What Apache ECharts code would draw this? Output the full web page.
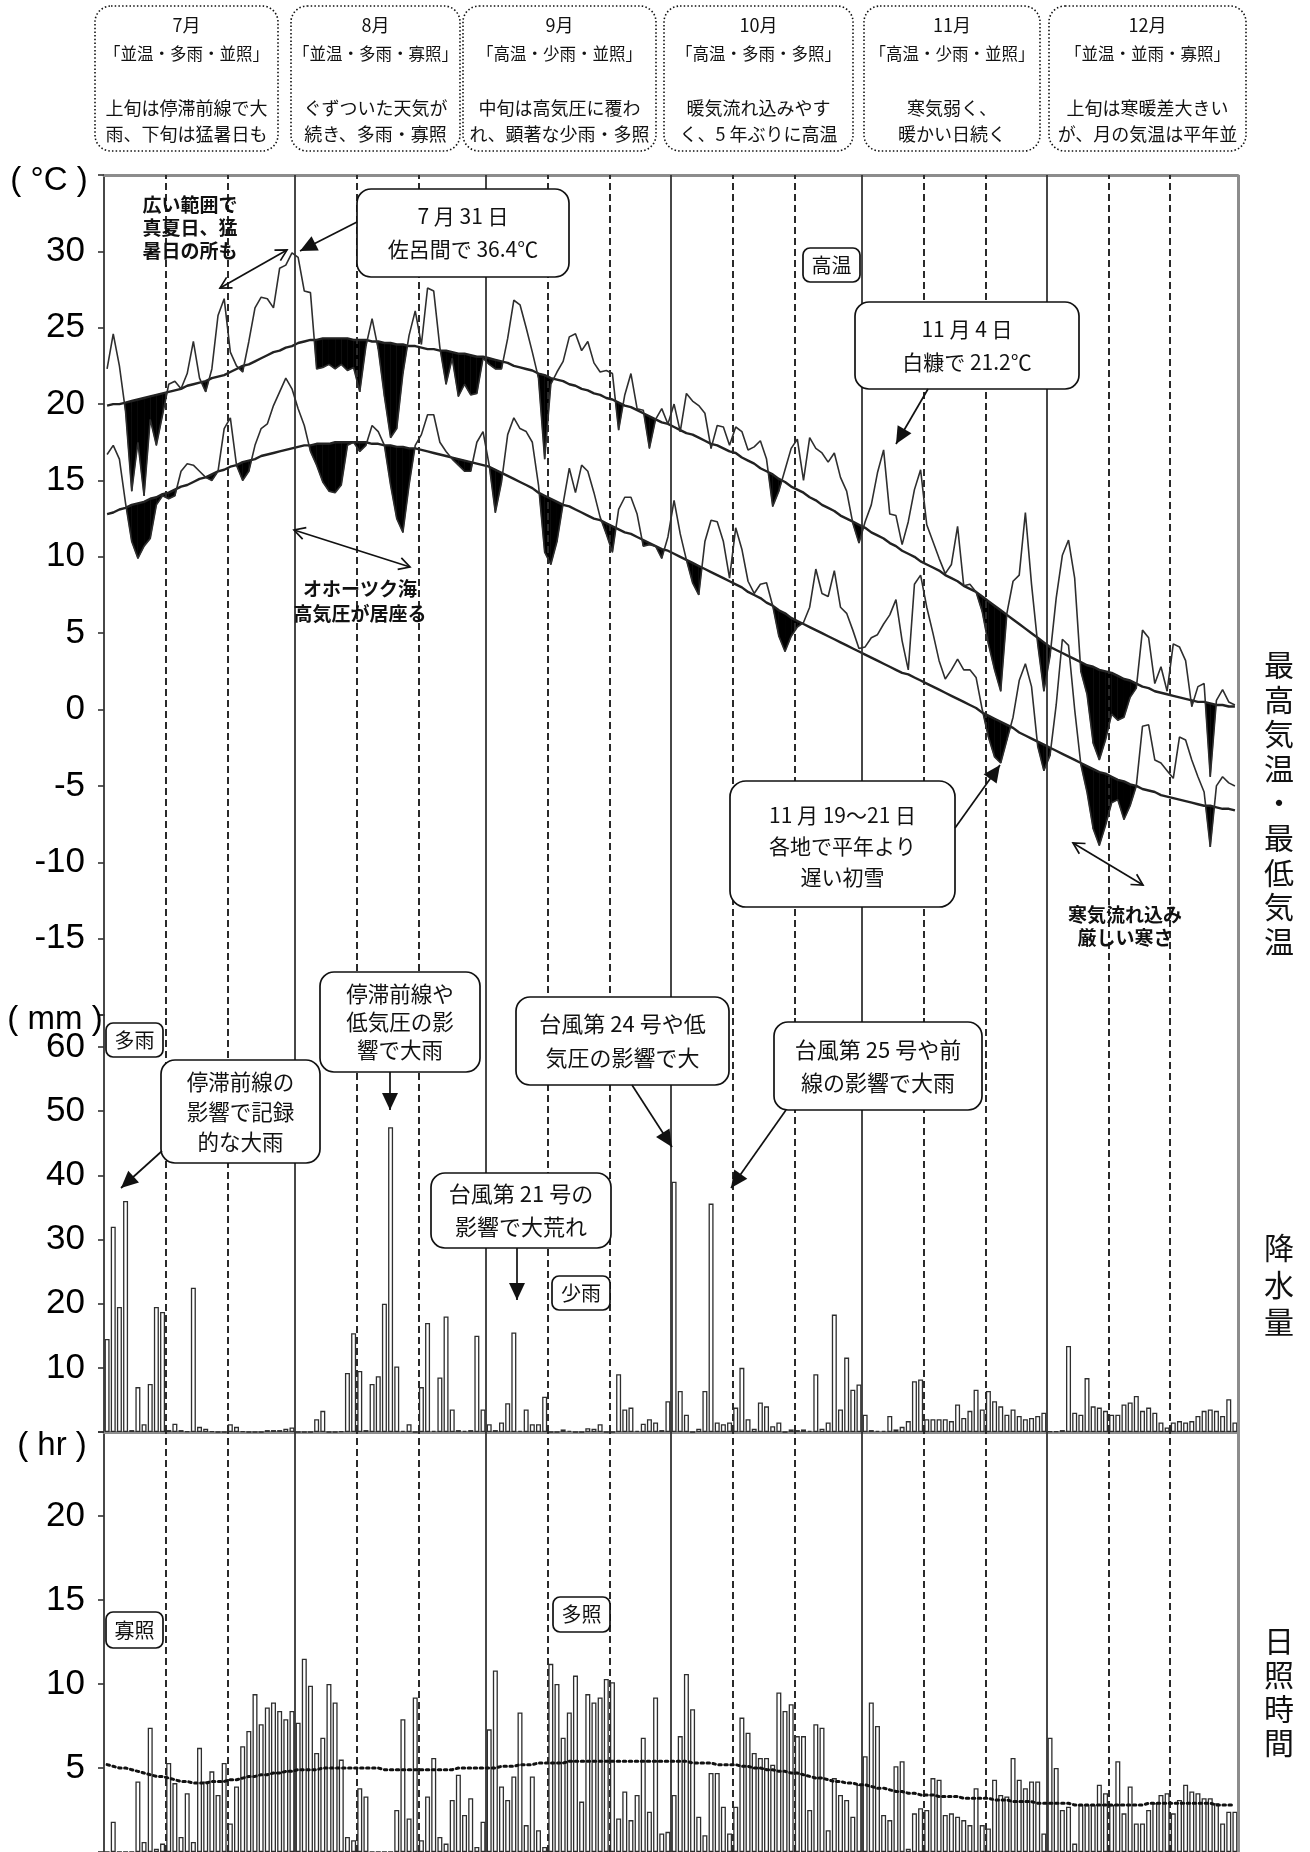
<!DOCTYPE html>
<html><head><meta charset="utf-8">
<script src="https://cdn.jsdelivr.net/npm/echarts@6/dist/echarts.min.js"></script>
<style>html,body{margin:0;padding:0;background:#fff}#c{width:1310px;height:1852px}</style>
</head><body><div id="c"></div>
<script>
// ---------------- DATA (Jul 1 – Dec 31, 184 days) ----------------
const monthNames = ['7月','8月','9月','10月','11月','12月'];
const monthRatings = ['「並温・多雨・並照」','「並温・多雨・寡照」','「高温・少雨・並照」','「高温・多雨・多照」','「高温・少雨・並照」','「並温・並雨・寡照」'];
const monthNotes = [
  ['上旬は停滞前線で大','雨、下旬は猛暑日も'],
  ['ぐずついた天気が','続き、多雨・寡照'],
  ['中旬は高気圧に覆わ','れ、顕著な少雨・多照'],
  ['暖気流れ込みやす','く、5 年ぶりに高温'],
  ['寒気弱く、','暖かい日続く'],
  ['上旬は寒暖差大きい','が、月の気温は平年並']
];
const monthStartDays = [31, 62, 92, 123, 153];
const decadeDays = [10, 20, 41, 51, 72, 82, 102, 112, 133, 143, 163, 173];
const tempLabels = [-15, -10, -5, 0, 5, 10, 15, 20, 25, 30];
const precipLabels = [10, 20, 30, 40, 50, 60];
const sunLabels = [5, 10, 15, 20];

const maxTemp = [
 22.3,24.6,22.5,19.5,14.3,17.5,14.0,19.0,17.3,19.3, 21.3,21.5,21.0,22.0,24.1,21.7,20.8,22.3,25.8,26.9, 23.4,22.5,22.1,24.1,26.3,27.0,26.9,26.3,28.9,29.1,29.9,
 29.6,27.4,27.3,22.3,22.4,22.6,22.3,22.6,22.2,22.4, 20.8,23.8,25.6,23.6,20.5,17.8,18.4,22.0,24.5,26.1, 23.9,27.6,27.4,23.7,21.3,23.0,20.5,21.3,20.6,20.7,23.0,
 22.6,22.3,22.3,24.3,26.8,26.5,25.0,23.4,21.7,16.4, 21.3,22.1,22.8,24.4,24.6,23.5,24.1,22.7,22.1,22.2, 22.0,18.3,20.6,22.0,19.7,19.6,17.1,19.0,19.7,18.7,
 20.0,18.2,20.7,20.2,19.9,19.4,17.1,18.6,18.5,17.3, 18.5,18.2,17.0,17.2,17.6,16.4,13.3,14.3,15.7,17.1, 17.7,15.0,17.8,17.1,16.8,16.2,16.8,15.2,14.3,12.2,10.9,
 12.3,13.4,15.5,17.0,12.8,12.7,10.8,12.3,14.4,15.7, 12.1,11.0,9.9,8.9,9.5,12.0,8.1,8.2,7.7,6.4, 4.3,2.6,1.2,6.3,8.4,8.8,12.9,8.2,4.3,1.2,
 3.5,7.3,10.1,11.1,8.6,2.5,1.0,-2.2,-3.3,-2.0, -0.3,-0.7,-0.5,0.8,1.4,5.2,4.7,1.7,2.8,1.2, 4.3,4.1,3.2,0.2,1.5,1.7,-4.4,0.6,1.3,0.5,0.3
];
const minTemp = [
 16.7,17.3,16.4,13.5,11.0,9.9,10.7,11.2,13.4,14.0, 13.8,14.0,15.6,16.1,16.0,15.6,15.2,15.0,15.6,18.4, 19.1,16.0,15.0,15.6,17.3,18.4,18.7,19.9,20.8,21.7,21.0,
 19.7,18.6,16.9,16.0,14.9,14.3,14.2,14.7,17.3,17.5, 16.9,17.3,18.6,18.2,17.3,14.7,12.5,11.6,14.7,17.3, 18.0,19.3,19.3,17.5,16.9,16.4,16.0,15.6,15.6,17.5,18.2,
 16.0,12.9,14.9,18.0,19.1,18.4,18.2,17.5,14.7,10.3, 9.5,11.0,13.5,15.8,14.2,16.0,15.6,14.2,12.6,11.5, 10.3,13.1,13.9,13.9,12.8,10.7,10.8,10.7,9.9,11.3,
 13.7,11.5,9.8,8.3,7.5,11.0,12.4,12.3,11.0,8.6, 11.9,10.5,8.4,7.6,8.2,8.3,6.8,4.8,3.8,4.8, 5.4,5.7,6.7,9.2,7.6,7.4,9.1,6.7,6.3,5.2,4.0,
 4.1,4.7,4.9,5.6,6.2,7.2,4.5,2.6,8.2,8.8, 6.7,5.0,3.2,2.0,2.6,3.3,2.6,2.6,2.1,0.0, -1.8,-3.1,-3.5,-2.0,-0.5,1.9,3.0,1.5,-2.4,-4.0,
 -3.0,0.3,4.6,4.2,0.0,-3.6,-5.4,-7.8,-8.9,-7.6, -6.1,-5.9,-7.2,-6.3,-5.0,-1.1,-1.0,-3.3,-3.5,-4.0, -4.5,-1.8,-2.0,-3.3,-4.4,-5.4,-9.0,-5.0,-4.4,-4.8,-5.0
];
const normalMax = [
 19.9,20.0,20.0,20.1,20.2,20.3,20.4,20.5,20.6,20.7, 20.8,20.9,21.0,21.2,21.3,21.4,21.5,21.7,21.8,21.9,
 22.1,22.3,22.5,22.6,22.8,23.0,23.2,23.4,23.5,23.7, 23.8,24.0,24.1,24.2,24.2,24.3,24.3,24.3,24.3,24.3,
 24.2,24.2,24.2,24.1,24.1,24.0,24.0,23.9,23.9,23.8, 23.8,23.7,23.6,23.6,23.5,23.5,23.4,23.3,23.3,23.2,
 23.1,23.1,23.0,22.9,22.8,22.7,22.5,22.4,22.3,22.2, 22.0,21.9,21.7,21.6,21.5,21.3,21.2,21.0,20.9,20.7,
 20.6,20.4,20.3,20.1,19.9,19.8,19.6,19.4,19.2,19.0, 18.8,18.7,18.5,18.3,18.1,18.0,17.8,17.6,17.4,17.3,
 17.1,16.9,16.8,16.5,16.3,16.1,15.8,15.6,15.4,15.1, 14.9,14.6,14.4,14.2,13.9,13.7,13.4,13.2,13.0,12.7,
 12.5,12.3,12.1,11.9,11.6,11.4,11.2,10.9,10.7,10.4, 10.2,10.0,9.7,9.5,9.3,9.1,8.8,8.6,8.4,8.1,
 7.9,7.7,7.4,7.1,6.8,6.5,6.2,5.9,5.6,5.3, 5.0,4.7,4.4,4.1,3.9,3.7,3.5,3.3,3.1,2.9,
 2.8,2.6,2.5,2.4,2.2,2.0,1.9,1.7,1.5,1.4, 1.2,1.1,1.0,0.9,0.8,0.7,0.6,0.5,0.5,0.4, 0.3,0.3,0.2,0.2
];
const normalMin = [
 12.8,12.9,13.1,13.2,13.4,13.5,13.6,13.8,13.9,14.1, 14.2,14.4,14.6,14.7,14.9,15.1,15.2,15.4,15.6,15.7,
 15.9,16.0,16.2,16.3,16.4,16.6,16.7,16.8,16.9,17.0, 17.1,17.2,17.3,17.3,17.4,17.4,17.4,17.5,17.5,17.5,
 17.5,17.5,17.5,17.4,17.4,17.3,17.3,17.2,17.2,17.1, 17.1,17.0,16.9,16.8,16.7,16.6,16.5,16.4,16.3,16.2,
 16.1,16.0,15.9,15.7,15.5,15.3,15.1,14.9,14.7,14.5, 14.2,14.0,13.8,13.6,13.4,13.3,13.1,12.9,12.7,12.5,
 12.4,12.2,12.0,11.8,11.6,11.5,11.3,11.1,10.9,10.7, 10.5,10.4,10.2,10.0,9.8,9.6,9.4,9.2,9.0,8.8,
 8.6,8.4,8.2,8.0,7.7,7.5,7.3,7.0,6.8,6.5, 6.3,6.0,5.8,5.6,5.4,5.2,5.0,4.8,4.6,4.4,
 4.2,4.0,3.8,3.6,3.4,3.2,3.0,2.8,2.6,2.4, 2.3,2.1,1.9,1.7,1.5,1.3,1.1,0.9,0.7,0.5,
 0.3,0.1,-0.2,-0.4,-0.6,-0.8,-1.0,-1.2,-1.5,-1.7, -1.9,-2.1,-2.3,-2.5,-2.7,-2.9,-3.1,-3.3,-3.5,-3.7,
 -3.9,-4.1,-4.2,-4.4,-4.6,-4.7,-4.9,-5.0,-5.2,-5.3, -5.4,-5.6,-5.7,-5.8,-5.9,-6.0,-6.1,-6.2,-6.3,-6.3, -6.4,-6.5,-6.5,-6.6
];
const precip = [
 14.5,32,19.5,36,0.3,7,1.2,7.5,19.5,18.7, 0.3,1.3,0.3,0.1,22.5,0.8,0.5,0.1,0,0, 1.2,0.8,0.1,0,0,0,0.3,0.3,0.3,0.5,0.7,
 0,0,0,2,3.3,0,0,0.1,9.2,15.4, 9.5,0.3,7.5,8.7,20,47.5,10.2,0.2,1.2,0, 7,17,0.2,8.5,18,3.5,0.3,0.2,0.3,15,3.5,
 1.2,0.3,1.5,4.5,15.5,0.2,3.5,1.2,1.2,5.5, 0,0,0.4,0.2,0,0,0.6,0.5,1.2,0, 0,9,3.5,3.8,0.2,1.3,2,1.5,0.3,4.8,
 39,6.4,2.7,0,0.5,6.4,35.6,1.5,1.2,1.5, 3.8,10,2,0.5,4.6,4,0.9,1.5,0,0.4, 0.3,0.4,0.2,9,0.5,1.5,18.3,3.5,11.6,6.6,7.4,
 2.7,0.3,0.2,0.2,2.5,0.4,0.8,1.7,7.9,8.2, 2,2,2,2,1.7,4.3,2.2,3.3,6.6,3.5, 6.4,4.8,4,2.7,3.5,2.5,2,2.2,2.5,3,
 0.1,0.1,0.3,13.4,3,2.7,8.4,4,3.8,3.3, 2.7,2.7,4.3,4.6,5.6,3.3,3.8,3,1.5,0.7, 1.5,1.7,1.5,1.7,2.5,3.3,3.5,3.3,2.5,5.1,1.5
];
const sunshine = [
 0,1.8,0,0,0,4.2,0.6,7.4,0.2,0.5, 5.3,4.1,0.9,3.5,0.6,6.2,4.2,4.8,3.4,5.3, 1.7,3.9,6.3,7.2,9.4,7.6,8.6,8.9,8.4,7.9,8.4,
 7.7,11.5,9.9,5.9,6.8,10.0,8.9,5.5,0.9,0.7, 3.8,3.3,0,0,0,0,2.5,7.9,2.0,9.2, 0.7,3.3,5.6,0.9,0.5,3.1,4.6,2.2,3.2,0.3,1.8,
 7.3,10.8,3.9,3.1,4.5,8.3,1.6,4.5,1.3,0.3, 11.2,10.0,6.8,8.3,10.5,3.0,9.4,8.9,9.2,10.3, 10.1,2.0,3.6,1.9,3.4,6.8,2.4,9.2,1.1,1.2,
 3.4,6.9,10.6,8.5,2.1,1.0,4.7,4.7,2.7,1.1, 2.7,8.0,7.1,5.9,5.6,5.6,5.2,9.5,8.4,8.8, 6.9,6.9,2.5,7.6,7.4,1.3,4.4,3.4,3.1,2.1,4.0,
 5.7,8.9,7.5,2.2,1.9,5.1,5.4,0.2,2.3,2.6, 2.5,4.4,4.3,2.2,2.3,2.1,1.9,1.6,3.8,1.6, 1.4,4.3,3.4,3.3,5.6,4.3,3.8,4.2,4.2,1.1,
 6.8,5.0,2.5,2.7,0.5,2.8,2.8,2.8,4.0,3.5, 2.8,5.4,2.3,3.9,1.7,1.7,2.5,2.9,3.4,3.5, 2.3,3.1,4.0,3.6,3.5,3.2,3.2,2.9,1.7,2.4,2.4
];
const normalSun = [
 5.2,5.1,5.0,5.0,4.9,4.8,4.7,4.6,4.5,4.5, 4.4,4.3,4.2,4.2,4.1,4.1,4.1,4.2,4.2,4.2,
 4.3,4.3,4.4,4.5,4.5,4.6,4.6,4.7,4.7,4.8, 4.8,4.9,4.9,4.9,4.9,5.0,5.0,5.0,5.0,5.0,
 5.0,5.0,5.0,5.0,5.0,4.9,4.9,4.9,4.9,4.9, 4.9,4.9,4.9,4.9,4.9,4.9,4.9,5.0,5.0,5.0,
 5.0,5.0,5.0,5.0,5.1,5.1,5.1,5.2,5.2,5.2, 5.3,5.3,5.3,5.3,5.3,5.4,5.4,5.4,5.4,5.4,
 5.4,5.4,5.4,5.4,5.4,5.4,5.4,5.4,5.4,5.4, 5.4,5.4,5.4,5.4,5.4,5.3,5.3,5.3,5.3,5.2,
 5.2,5.2,5.2,5.1,5.1,5.0,5.0,4.9,4.9,4.8, 4.8,4.7,4.7,4.6,4.5,4.4,4.4,4.3,4.2,4.2,
 4.1,4.1,4.0,4.0,3.9,3.8,3.8,3.7,3.6,3.6, 3.5,3.5,3.4,3.4,3.4,3.3,3.3,3.3,3.3,3.2,
 3.2,3.2,3.2,3.2,3.1,3.1,3.1,3.0,3.0,3.0, 3.0,2.9,2.9,2.9,2.9,2.9,2.9,2.8,2.8,2.8,
 2.8,2.8,2.8,2.8,2.8,2.8,2.8,2.8,2.8,2.9, 2.9,2.9,2.9,2.9,2.9,2.9,2.9,2.9,2.9,2.9, 2.8,2.8,2.8,2.8
];

// ---------------- CHART ----------------
const NDAYS = maxTemp.length;
const JP = '"Noto Sans CJK JP", sans-serif';
const AR = '"Liberation Sans", Arial, sans-serif';
const pairs = arr => arr.map((v, i) => [i + 0.5, v]);
const chart = echarts.init(document.getElementById('c'));

function vlines() {
  return {
    silent: true, symbol: ['none', 'none'], label: {show: false}, animation: false,
    data: [
      ...monthStartDays.map(d => ({xAxis: d, lineStyle: {type: 'solid', color: '#333', width: 1.8}})),
      ...decadeDays.map(d => ({xAxis: d, lineStyle: {type: [7, 4], color: '#2a2a2a', width: 2}})),
      {xAxis: NDAYS, lineStyle: {type: 'solid', color: '#8c8c8c', width: 3}}
    ]
  };
}
function fillBelow(obs, norm) {
  return {
    type: 'custom', xAxisIndex: 0, yAxisIndex: 0, silent: true, z: 3, clip: true,
    data: obs.slice(0, -1).map((v, i) => [i + 0.5, v]),
    renderItem: function (params, api) {
      const i = params.dataIndex;
      const o0 = obs[i], o1 = obs[i + 1], n0 = norm[i], n1 = norm[i + 1];
      const d0 = o0 - n0, d1 = o1 - n1;
      const x0 = i + 0.5, x1 = i + 1.5;
      let pts;
      if (d0 >= 0 && d1 >= 0) return null;
      if (d0 < 0 && d1 < 0) pts = [[x0, o0], [x1, o1], [x1, n1], [x0, n0]];
      else {
        const t = d0 / (d0 - d1), xc = x0 + t, yc = o0 + t * (o1 - o0);
        pts = d0 < 0 ? [[x0, o0], [xc, yc], [x0, n0]] : [[xc, yc], [x1, o1], [x1, n1]];
      }
      return {type: 'polygon', shape: {points: pts.map(p => api.coord(p))},
              style: {fill: '#000', stroke: '#000', lineWidth: 0.6}};
    }
  };
}
function yAx(g, min, max, interval, shown) {
  return {
    type: 'value', gridIndex: g, min, max, interval,
    axisLine: {show: true, lineStyle: {color: '#333', width: 1.8}},
    axisTick: {show: true, length: 6, lineStyle: {color: '#333', width: 1.6}},
    splitLine: {show: false},
    axisLabel: {margin: 19, color: '#000', fontSize: 35, fontFamily: AR,
      formatter: v => shown.indexOf(v) >= 0 ? String(v) : ''}
  };
}
const lineStyleObs = {color: '#2e2e2e', width: 1.6};
const lineStyleNorm = {color: '#222', width: 2.4};

// ---------------- GRAPHIC (annotations) ----------------
const G = [];
function text(x, y, t, size, opt) {
  opt = opt || {};
  G.push({type: 'text', z: 101, silent: true, style: {
    x, y, text: t, fill: opt.fill || '#111',
    font: (opt.weight || 'normal') + ' ' + size + 'px ' + (opt.family || JP),
    align: opt.align || 'center', verticalAlign: 'middle', lineHeight: opt.lh || Math.round(size * 1.4)}});
}
function rect(x, y, w, h, r, opt) {
  opt = opt || {};
  G.push({type: 'rect', z: 100, silent: true, shape: {x, y, width: w, height: h, r},
    style: {fill: '#fff', stroke: '#111', lineWidth: opt.lw || 1.7, lineDash: opt.dash || null}});
}
function arrow(x1, y1, x2, y2, opt) {
  opt = opt || {};
  const a = Math.atan2(y2 - y1, x2 - x1);
  const L = opt.len || 15, W = opt.wid || 7;
  const head = (x, y, ang) => {
    const bx = x - L * Math.cos(ang), by = y - L * Math.sin(ang);
    const px = -Math.sin(ang) * W, py = Math.cos(ang) * W;
    if (opt.open) return {type: 'polyline', z: 101, silent: true, shape: {points: [[bx + px, by + py], [x, y], [bx - px, by - py]]}, style: {stroke: '#111', lineWidth: 1.7, fill: null}};
    return {type: 'polygon', z: 101, silent: true, shape: {points: [[x, y], [bx + px, by + py], [bx - px, by - py]]}, style: {fill: '#111'}};
  };
  G.push({type: 'line', z: 101, silent: true, shape: {x1, y1, x2, y2}, style: {stroke: '#111', lineWidth: 1.7}});
  G.push(head(x2, y2, a));
  if (opt.both) G.push(head(x1, y1, a + Math.PI));
}

// month header boxes
const headerBoxes = [[95, 278], [291, 460], [463, 656], [664, 853], [864, 1040], [1049, 1246]];
headerBoxes.forEach((b, k) => {
  rect(b[0], 6, b[1] - b[0], 145, 16, {dash: [1.5, 2.2], lw: 1.6});
  const cx = (b[0] + b[1]) / 2;
  text(cx, 25, monthNames[k], 18);
  text(cx, 54, monthRatings[k], 16.5);
  text(cx, 108, monthNotes[k][0], 18);
  text(cx, 134, monthNotes[k][1], 18);
});

// unit labels
text(49, 181, '( °C )', 33, {family: AR, fill: '#000'});
text(55, 1020, '( mm )', 33, {family: AR, fill: '#000'});
text(52, 1446, '( hr )', 33, {family: AR, fill: '#000'});

// right vertical titles
text(1279, 803, '最\n高\n気\n温\n・\n最\n低\n気\n温', 30, {lh: 34.6});
text(1279, 1285, '降\n水\n量', 30, {lh: 37});
text(1279, 1692, '日\n照\n時\n間', 30, {lh: 34});

// temperature annotations
text(190, 228, '広い範囲で\n真夏日、猛\n暑日の所も', 19, {weight: 'bold', lh: 23});
arrow(220, 288, 287, 250, {both: true, open: true, len: 11, wid: 6});
rect(357, 189, 212, 88, 14);
text(463, 233, '7 月 31 日\n佐呂間で 36.4℃', 21, {lh: 33});
arrow(357, 222, 300, 251, {len: 17, wid: 8});
rect(803, 248, 57, 34, 7);
text(831.5, 265, '高温', 20);
rect(855, 302, 224, 87, 14);
text(967, 346, '11 月 4 日\n白糠で 21.2℃', 21, {lh: 33});
arrow(928, 389, 896, 444, {len: 17, wid: 8});
arrow(294, 530, 410, 567, {both: true, open: true, len: 11, wid: 6});
text(360, 601, 'オホーツク海\n高気圧が居座る', 19, {weight: 'bold', lh: 25});
rect(730, 781, 225, 126, 16);
text(842.5, 846, '11 月 19～21 日\n各地で平年より\n遅い初雪', 21, {lh: 31});
arrow(955, 828, 1000, 765, {len: 17, wid: 8});
arrow(1073, 843, 1143, 885, {both: true, open: true, len: 11, wid: 6});
text(1125, 926, '寒気流れ込み\n厳しい寒さ', 19, {weight: 'bold', lh: 23});

// precipitation annotations
rect(106, 1023, 57, 34, 7);
text(134.5, 1040, '多雨', 20);
rect(161, 1060, 159, 103, 14);
text(240.5, 1112, '停滞前線の\n影響で記録\n的な大雨', 21.5, {lh: 30});
arrow(162, 1151, 121, 1188, {len: 17, wid: 8});
rect(320, 972, 160, 100, 14);
text(400, 1022, '停滞前線や\n低気圧の影\n響で大雨', 21.5, {lh: 28});
arrow(390, 1072, 390, 1110, {len: 17, wid: 8});
rect(431, 1173, 180, 75, 14);
text(521, 1210, '台風第 21 号の\n影響で大荒れ', 22, {lh: 33});
arrow(517, 1248, 517, 1300, {len: 17, wid: 8});
rect(552, 1276, 58, 34, 7);
text(581, 1293, '少雨', 20);
rect(516, 997, 213, 88, 14);
text(622.5, 1041, '台風第 24 号や低\n気圧の影響で大', 22, {lh: 34});
arrow(632, 1085, 672, 1147, {len: 17, wid: 8});
rect(774, 1022, 208, 88, 14);
text(878, 1066, '台風第 25 号や前\n線の影響で大雨', 22, {lh: 33});
arrow(786, 1110, 731, 1188, {len: 17, wid: 8});

// sunshine annotations
rect(106, 1612, 57, 36, 7);
text(134.5, 1630, '寡照', 20);
rect(553, 1597, 57, 35, 7);
text(581.5, 1614.5, '多照', 20);

const option = {
  animation: false,
  backgroundColor: '#fff',
  grid: [
    {left: 104, top: 175, width: 1134, height: 840},
    {left: 104, top: 1015, width: 1134, height: 417},
    {left: 104, top: 1432, width: 1134, height: 424}
  ],
  xAxis: [0, 1, 2].map(g => ({
    type: 'value', gridIndex: g, min: 0, max: NDAYS, position: g === 0 ? 'top' : 'bottom',
    axisLine: {show: g < 2, onZero: false, lineStyle: {color: '#8c8c8c', width: 3}},
    axisTick: {show: false}, axisLabel: {show: false}, splitLine: {show: false}
  })),
  yAxis: [
    yAx(0, -20, 35, 5, tempLabels),
    yAx(1, 0, 65, 10, precipLabels),
    yAx(2, 0, 25, 5, sunLabels)
  ],
  series: [
    {type: 'line', xAxisIndex: 0, yAxisIndex: 0, data: [], z: 1, markLine: vlines()},
    {type: 'line', xAxisIndex: 1, yAxisIndex: 1, data: [], z: 1, markLine: vlines()},
    {type: 'line', xAxisIndex: 2, yAxisIndex: 2, data: [], z: 1, markLine: vlines()},
    fillBelow(maxTemp, normalMax),
    fillBelow(minTemp, normalMin),
    {type: 'line', xAxisIndex: 0, yAxisIndex: 0, data: pairs(normalMax), symbol: 'none', silent: true, z: 4, lineStyle: lineStyleNorm},
    {type: 'line', xAxisIndex: 0, yAxisIndex: 0, data: pairs(normalMin), symbol: 'none', silent: true, z: 4, lineStyle: lineStyleNorm},
    {type: 'line', xAxisIndex: 0, yAxisIndex: 0, data: pairs(maxTemp), symbol: 'none', silent: true, z: 5, lineStyle: lineStyleObs},
    {type: 'line', xAxisIndex: 0, yAxisIndex: 0, data: pairs(minTemp), symbol: 'none', silent: true, z: 5, lineStyle: lineStyleObs},
    {type: 'bar', xAxisIndex: 1, yAxisIndex: 1, data: pairs(precip), barWidth: 5, silent: true, z: 3,
     itemStyle: {color: '#fff', borderColor: '#2e2e2e', borderWidth: 1.3}},
    {type: 'bar', xAxisIndex: 2, yAxisIndex: 2, data: pairs(sunshine), barWidth: 5, silent: true, z: 3,
     itemStyle: {color: '#fff', borderColor: '#2e2e2e', borderWidth: 1.3}},
    {type: 'line', xAxisIndex: 2, yAxisIndex: 2, data: pairs(normalSun), symbol: 'none', silent: true, z: 5,
     lineStyle: {color: '#111', width: 3, type: [2.5, 3.5], cap: 'round'}}
  ],
  graphic: {elements: G}
};
chart.setOption(option);
</script></body></html>
